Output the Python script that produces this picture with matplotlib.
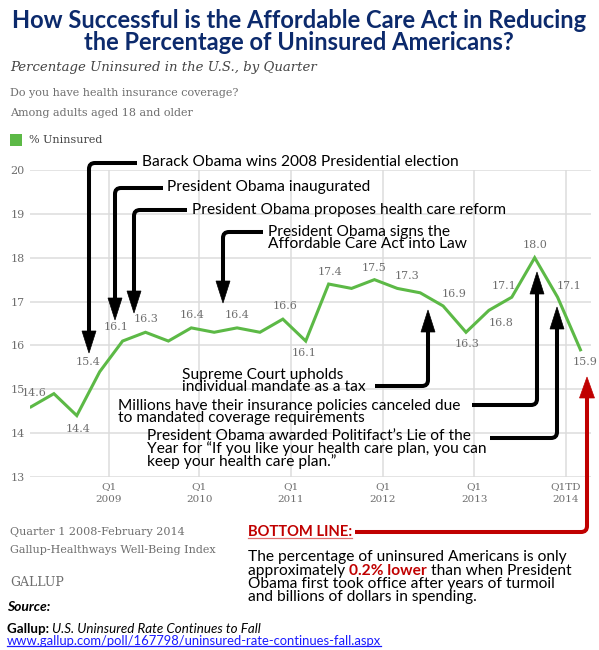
import numpy as np
import matplotlib
matplotlib.use("Agg")
import matplotlib.pyplot as plt
from matplotlib.path import Path
from matplotlib.patches import PathPatch, Polygon, Rectangle

# data: % uninsured, quarterly Q1 2008 .. Q1 2014 (to date)
quarters = list(range(25))
uninsured = [14.6, 14.9, 14.4, 15.4, 16.1, 16.3, 16.1, 16.4, 16.3, 16.4, 16.3, 16.6, 16.1,
             17.4, 17.3, 17.5, 17.3, 17.2, 16.9, 16.3, 16.8, 17.1, 18.0, 17.1, 15.9]
labelled = [0, 2, 3, 4, 5, 7, 9, 11, 12, 13, 15, 16, 18, 19, 20, 21, 22, 23, 24]
tick_pos = [3.4, 7.35, 11.35, 15.37, 19.37, 23.35]
tick_labels = ["Q1\n2009", "Q1\n2010", "Q1\n2011", "Q1\n2012", "Q1\n2013", "Q1TD\n2014"]
y_ticks = [13, 14, 15, 16, 17, 18, 19, 20]

# label offsets in pixels (dx, dy up)
label_offsets = [(3, 14), (1, -13), (-12, 10), (-7, 14), (1, 13), (1, 13), (0, 13), (2, 13),
                 (-2, -12), (1, 12), (0, 12), (10, 12), (11, 12), (1, -12), (12, -13),
                 (-8, 11), (0, 13), (11, 11), (5, -12)]

GREEN = "#5cb946"
GRAY = "#6e6e6e"
NAVY = "#0c2a6c"
RED = "#c00000"
SERIF = "DejaVu Serif"
SANS = "Lato"

W, H = 599, 650
fig = plt.figure(figsize=(W / 100, H / 100), dpi=100)

# main chart axes (pixel box: left 30, right 591, top 170, bottom 477)
ax = fig.add_axes([30 / W, 1 - 477 / H, 561 / W, 307 / H])
ax.plot(quarters, uninsured, color=GREEN, lw=2.2, solid_joinstyle="miter", zorder=3)
for i, (dx, dy) in zip(labelled, label_offsets):
    ax.annotate(f"{uninsured[i]:.1f}", (quarters[i], uninsured[i]), xytext=(dx, dy),
                textcoords="offset pixels", ha="center", va="center",
                fontsize=8, family=SERIF, color=GRAY, zorder=4)
ax.set_xlim(-0.044, 24.46)
ax.set_ylim(13, 20)
ax.set_xticks(tick_pos)
ax.set_xticklabels(tick_labels, family=SERIF, fontsize=7.5, color=GRAY, linespacing=1.5)
ax.set_yticks(y_ticks)
ax.set_yticklabels([str(v) for v in y_ticks], family=SERIF, fontsize=8, color=GRAY)
ax.tick_params(length=0, pad=4)
ax.grid(True, color="#dcdcdc", lw=1.1)
ax.set_axisbelow(True)
for s in ax.spines.values():
    s.set_visible(False)

# overlay in pixel coordinates for the text and arrows
ov = fig.add_axes([0, 0, 1, 1], zorder=5)
ov.set_xlim(0, W)
ov.set_ylim(H, 0)
ov.axis("off")
ov.patch.set_alpha(0)


def elbow_arrow(pts, color="black", lw=2.9, head_w=14, head_l=22, r=6):
    tip = pts[-1]
    prev = pts[-2]
    sign = 1 if tip[1] > prev[1] else -1
    base = (tip[0], tip[1] - sign * head_l)
    pts = list(pts[:-1]) + [base]
    verts = [pts[0]]
    codes = [Path.MOVETO]
    for k in range(1, len(pts) - 1):
        p0, p1, p2 = np.array(pts[k - 1]), np.array(pts[k]), np.array(pts[k + 1])
        a = p1 - r * (p1 - p0) / np.linalg.norm(p1 - p0)
        b = p1 + r * (p2 - p1) / np.linalg.norm(p2 - p1)
        verts += [tuple(a), tuple(p1), tuple(b)]
        codes += [Path.LINETO, Path.CURVE3, Path.CURVE3]
    verts.append(pts[-1])
    codes.append(Path.LINETO)
    ov.add_patch(PathPatch(Path(verts, codes), fill=False, ec=color, lw=lw, capstyle="butt"))
    ov.add_patch(Polygon([(tip[0] - head_w / 2, base[1]), (tip[0] + head_w / 2, base[1]), tip],
                         closed=True, fc=color, ec=color, lw=0.5))


# title and header
ov.text(299, 20, "How Successful is the Affordable Care Act in Reducing", ha="center", va="center",
        family=SANS, weight="bold", fontsize=17, color=NAVY)
ov.text(299, 43, "the Percentage of Uninsured Americans?", ha="center", va="center",
        family=SANS, weight="bold", fontsize=17, color=NAVY)
ov.text(10, 68, "Percentage Uninsured in the U.S., by Quarter", ha="left", va="center",
        family=SERIF, style="italic", fontsize=9.5, color="#444444")
ov.text(10, 93, "Do you have health insurance coverage?", ha="left", va="center",
        family=SERIF, fontsize=8, color=GRAY)
ov.text(10, 113, "Among adults aged 18 and older", ha="left", va="center",
        family=SERIF, fontsize=8, color=GRAY)
ov.add_patch(Rectangle((10, 134), 12, 12, fc=GREEN, ec="none"))
ov.text(29, 140, "% Uninsured", ha="left", va="center", family=SERIF, fontsize=8, color="#444444")

# event annotations
ann = dict(ha="left", va="center", family=SANS, fontsize=11.2, color="black", linespacing=0.82)
ov.text(142, 162, "Barack Obama wins 2008 Presidential election", **ann)
elbow_arrow([(137, 163), (89, 163), (89, 353)])
ov.text(167, 187, "President Obama inaugurated", **ann)
elbow_arrow([(163, 188), (115, 188), (115, 320)])
ov.text(192, 210, "President Obama proposes health care reform", **ann)
elbow_arrow([(187, 210), (134, 210), (134, 313)])
ov.text(268, 238, "President Obama signs the\nAffordable Care Act into Law", **ann)
elbow_arrow([(263, 232), (223, 232), (223, 303)])
ov.text(182, 381, "Supreme Court upholds\nindividual mandate as a tax", **ann)
elbow_arrow([(375, 386), (428, 386), (428, 310)])
ov.text(118, 412, "Millions have their insurance policies canceled due\nto mandated coverage requirements", **ann)
elbow_arrow([(472, 405), (537, 405), (537, 272)])
ov.text(147, 449, "President Obama awarded Politifact\u2019s Lie of the\n"
        "Year for \u201cIf you like your health care plan, you can\n"
        "keep your health care plan.\u201d", **ann)
elbow_arrow([(490, 438), (557, 438), (557, 307)])

# bottom line
bl = ov.text(248, 532, "BOTTOM LINE:", ha="left", va="center", family=SANS, weight="bold",
             fontsize=10.6, color=RED)
elbow_arrow([(355, 532), (587, 532), (587, 377)], color=RED, lw=2.9, head_w=15, head_l=21)
body = dict(ha="left", va="center", family=SANS, fontsize=11.2, color="black")
ov.text(248, 557, "The percentage of uninsured Americans is only", **body)
t1 = ov.text(248, 571, "approximately ", **body)
t2 = ov.annotate("0.2% lower", xy=(1, 0), xycoords=t1, ha="left", va="bottom",
                 family=SANS, fontsize=11.2, weight="bold", color=RED)
ov.annotate(" than when President", xy=(1, 0), xycoords=t2, ha="left", va="bottom",
            family=SANS, fontsize=11.2, color="black")
ov.text(248, 584, "Obama first took office after years of turmoil", **body)
ov.text(248, 597, "and billions of dollars in spending.", **body)

# footer
ov.text(10, 532, "Quarter 1 2008-February 2014", ha="left", va="center", family=SERIF, fontsize=8, color=GRAY)
ov.text(10, 550, "Gallup-Healthways Well-Being Index", ha="left", va="center", family=SERIF, fontsize=8, color=GRAY)
ov.text(10, 582, "GALLUP", ha="left", va="center", family=SERIF, fontsize=9, color=GRAY)
ov.text(7, 607, "Source:", ha="left", va="center", family=SANS, weight="bold", style="italic",
        fontsize=10, color="black")
g1 = ov.text(7, 629, "Gallup: ", ha="left", va="center", family=SANS, weight="bold", fontsize=9.6, color="black")
ov.annotate("U.S. Uninsured Rate Continues to Fall", xy=(1, 0), xycoords=g1, ha="left", va="bottom",
            family=SANS, style="italic", fontsize=9.6, color="black")
link = ov.text(7, 641, "www.gallup.com/poll/167798/uninsured-rate-continues-fall.aspx", ha="left",
               va="center", family=SANS, fontsize=9.4, color="#1a1aff")

# underlines
fig.canvas.draw()
inv = ov.transData.inverted()
for t, col, off in [(bl, "#e07070", 6), (link, "#1a1aff", 5)]:
    bb = t.get_window_extent()
    (x0, _), (x1, _) = inv.transform([(bb.x0, bb.y0), (bb.x1, bb.y0)])
    y = t.get_position()[1] + off
    ov.plot([x0, x1], [y, y], color=col, lw=0.9)

fig.savefig("out.png", dpi=100)
